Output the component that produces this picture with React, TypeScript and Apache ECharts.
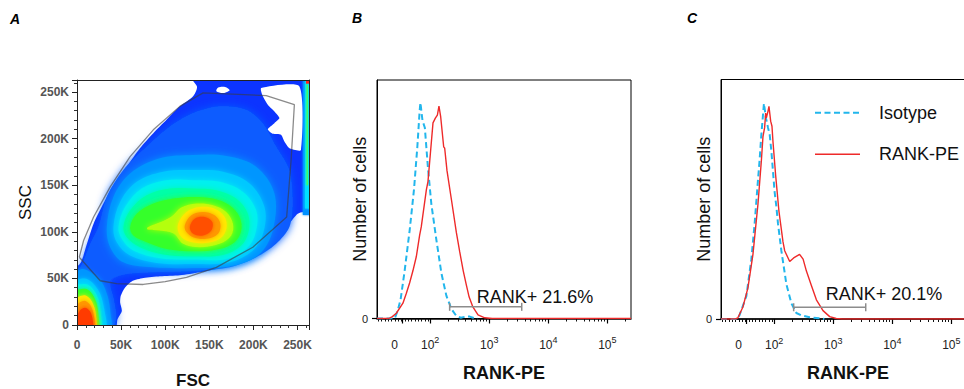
import { useEffect, useRef } from 'react';
import * as echarts from 'echarts';

const FONT = '"Liberation Sans", Arial, Helvetica, sans-serif';

/* ---------------- Panel A: FSC vs SSC (values in K) ---------------- */

const scatterMax = 263;

// pseudocolour density levels, from the outermost (sparsest) inwards
const densityOuter = [[-5,-5],[43.2,-5],[45.9,6.1],[50.8,15.1],[48.9,24.1],[49.6,31.3],[54.5,40.3],[62,46.8],[75.2,50.4],[94,52.2],[116.6,53.3],[139.2,56.5],[161.7,61.2],[184.3,69.1],[206.9,81.7],[225.7,96.1],[240.8,109.4],[250.2,119.5],[257.7,121.3],[270,114],[270,270],[126,270],[136,256],[131.6,245.5],[116.6,234.7],[101.5,220.3],[86.5,205.9],[71.4,189.7],[56.4,169.9],[41.3,150.1],[30,130.3],[18.8,108.7],[11.3,87.1],[4.5,67.3],[-5,56]];
const densityLow = [[24.4,105.1],[33.8,137.5],[52.6,166.3],[79,191.5],[105.3,213.1],[131.6,227.5],[161.7,234.7],[191.8,231.1],[210.6,216.7],[225.7,191.5],[240.7,166.3],[244.5,130.3],[240.7,105.1],[225.7,87.1],[203.1,72.7],[173,61.9],[131.6,57.9],[86.5,56.5],[52.6,54],[37.6,47.5],[41.3,29.5],[44.4,7.9],[37.6,-5],[-5,-5],[-5,43.9],[7.5,69.1],[15,87.1]];
const densityL3 = [[33.8,105.1],[41.3,137.5],[60.2,162.7],[94,178.9],[131.6,182.5],[169.3,181.4],[203.1,169.9],[223.8,141.1],[221.9,101.5],[206.9,76.3],[176.8,63.7],[131.6,61.2],[86.5,61.9],[52.6,67.3],[37.6,83.5]];
const densityL4 = [[41.3,105.1],[48.9,132.1],[67.7,153.7],[97.8,164.5],[131.6,166.3],[165.5,164.5],[195.6,151.9],[212.5,126.7],[211.4,99.7],[199.3,79.9],[173,67.3],[131.6,65.5],[90.2,66.6],[60.2,74.5],[45.1,88.9]];
const densityL5 = [[47,105.1],[54.5,126.7],[73.3,146.5],[101.5,155.5],[131.6,155.5],[161.7,153.7],[188.1,142.9],[203.1,123.1],[203.1,101.5],[193.7,83.5],[169.3,70.9],[131.6,70.2],[94,71.6],[63.9,79.9],[50.7,92.5]];
const densityL6 = [[52.6,105.1],[60.2,123.1],[79,139.3],[105.3,146.5],[131.6,146.5],[158,144.7],[180.5,135.7],[193.7,119.5],[194.8,101.5],[186.2,85.3],[165.5,75.2],[131.6,73.8],[97.8,75.6],[71.4,83.5],[56.4,94.3]];
const densityL7 = [[60.2,105.1],[67.7,119.5],[86.5,130.3],[109.1,135.7],[131.6,137.5],[154.2,135.7],[173,128.5],[184.3,115.9],[186.2,101.5],[178.7,88.9],[161.7,81.7],[131.6,79.2],[101.5,81.7],[79,88.9],[63.9,96.1]];
const densityL8 = [[80,105],[95,110.5],[108,117],[118,126],[135.4,130.3],[154.2,128.5],[169.3,121.3],[176.8,108.7],[174.9,96.1],[161.7,87.1],[139.2,83.5],[120.3,87.1],[110,98],[94,101.5],[80,102.5]];
const densityL9 = [[114.7,108.7],[124.1,121.3],[139.2,126.7],[156.1,124.9],[167.4,115.9],[169.3,103.3],[161.7,92.5],[142.9,87.8],[124.1,90.7],[115.8,97.9]];
const densityL10 = [[122.2,106.9],[129.7,117.7],[142.9,121.3],[156.1,117.7],[162.5,108.7],[159.9,97.9],[146.7,92.5],[131.6,94.3],[124.1,99.7]];
const densityPeak = [[127.9,105.1],[133.5,114.1],[144.8,115.9],[153.4,110.5],[152.3,101.5],[142.9,96.1],[131.6,97.9]];

// debris population in the lower-left corner
const debrisL3 = [[-5,-5],[-5,52],[6,60],[16,56],[28,46],[35,30],[38,12],[38,-5]];
const debrisL4 = [[-5,-5],[-5,45],[8,50],[17,46],[26,34],[31,16],[32,-5]];
const debrisL5 = [[-5,-5],[-5,40],[9,44],[17,40],[24,28],[27,11],[27,-5]];
const debrisL7 = [[-5,-5],[-4,35],[9,39],[16,35],[22,24],[24.5,9],[24,-5]];
const debrisL9 = [[-5,-5],[-2,27],[8,32],[15,28],[20,18],[22,6],[21,-5]];
const debrisL10 = [[-5,-5],[0,21],[8,26],[14.5,22],[18.5,13],[19.5,-5]];
const debrisPeak = [[-5,-5],[3,15],[9,18.5],[14.5,15],[17.5,7],[17.5,-5]];

// saturated FSC events piled up on the right edge
const edgeBand = [[256,118],[270,118],[270,270],[256,270]];
const edgeBandInner = [[258.5,125],[270,125],[270,262],[258.5,262]];
const edgeBandCore = [[260.3,150],[261.8,150],[261.8,258],[260.3,258]];
const edgeCorner = [[259.5,259],[270,259],[270,270],[259.5,270]];

// empty regions inside the upper part of the cloud
const emptyNotch = [[208.8,254.5],[252,256.3],[253.9,187.9],[240.8,189.7],[235.1,196.9],[231.3,204.1],[221.9,205.2],[216.3,210.2],[223.8,216.7],[229.5,222.1],[223.8,229.3],[216.3,236.5],[210.7,245.5]];
const emptySpot = [[158,251],[166,249],[173,252],[168,255.5],[160,255]];

// gate drawn on the FSC/SSC plot
const cellGate = [[2.6,72.7],[26.3,47.5],[45,44.5],[75,43.5],[100,46.5],[124.2,51.1],[158,61.9],[199.3,83.5],[237.7,115.9],[242.7,177.1],[246.4,236.5],[214.5,246.2],[142.9,249.2],[116.6,234.7],[86.5,209.5],[60.2,180.7],[37.6,148.3],[18.8,115.9],[7.5,90.7],[2.6,72.7]];

/* ---------------- Panels B and C: RANK-PE histograms ---------------- */
// x: position on the biexponential RANK-PE scale in decades (10^2 -> 2, 10^3 -> 3 ...)
// y: cell count as % of the panel's full scale

const peMin = 1.1;
const peMax = 5.4;
const peZero = 1.42;
const peDecades = [2, 3, 4, 5];

const isotypeB = [[1.10,0],[1.40,0],[1.454,3.6],[1.50,8],[1.568,20],[1.653,37],[1.726,54],[1.783,72],[1.822,87],[1.835,90.5],[1.87,83],[1.91,80],[1.963,63],[2.02,48],[2.105,33],[2.19,19],[2.275,9.5],[2.36,4],[2.44,1.2],[2.52,0.3],[2.6,0.8],[2.67,0.8],[2.74,0.2],[2.8,0]];
const rankB = [[1.10,0],[1.30,0],[1.36,0.8],[1.427,2.2],[1.539,6.4],[1.597,10.6],[1.653,15],[1.708,20],[1.766,26],[1.822,35],[1.85,38.5],[1.936,54],[1.963,57.4],[2.003,69],[2.048,82],[2.088,84],[2.122,85.3],[2.149,89],[2.178,84.6],[2.229,72],[2.246,71.4],[2.285,62],[2.359,50],[2.444,36],[2.5,28],[2.56,20],[2.613,14],[2.66,9],[2.72,5],[2.81,1.5],[2.924,0.3],[3.05,0],[5.4,0]];

const isotypeC = [[1.10,0],[1.38,0],[1.415,1.7],[1.529,9.5],[1.614,25],[1.67,40],[1.726,58],[1.754,66.5],[1.783,77],[1.827,90],[1.86,84],[1.895,80],[1.924,77],[1.953,70],[2.008,53],[2.037,47],[2.064,40],[2.122,28.5],[2.207,14.5],[2.292,6.5],[2.376,2.5],[2.46,1.5],[2.6,0.7],[2.77,0.3],[2.85,0]];
const rankC = [[1.10,0],[1.34,0],[1.386,0.5],[1.471,5],[1.556,13],[1.641,27],[1.726,48],[1.783,66],[1.81,76],[1.839,80],[1.856,86],[1.868,84],[1.895,86.7],[1.912,88.8],[1.941,82.6],[1.963,80.5],[1.98,74],[2.025,60],[2.081,45],[2.149,32.3],[2.178,28.5],[2.263,24],[2.33,25.5],[2.43,27],[2.49,25],[2.546,20],[2.63,14],[2.715,8],[2.827,3.5],[2.94,1],[3.05,0.2],[3.15,0],[5.4,0]];

// RANK+ gate limits (same decade positions on both panels) and the reported percentages
const rankGateB = { from: 2.33, to: 3.55, label: 'RANK+ 21.6%' };
const rankGateC = { from: 2.33, to: 3.55, label: 'RANK+ 20.1%' };

const seriesNames = ['Isotype', 'RANK-PE'];

/* ---------------- styling ---------------- */

const CYAN = '#22b6ec';
const RED = '#ee2a2a';
const GATE_GREY = '#8c8c8c';

const densityLayers = [
  { pts: densityOuter, color: '#0c34ff', smooth: 0.25, blur: 0 },
  { pts: densityLow, color: '#0b5cff', smooth: 0.3, blur: 8 },
  { pts: debrisL3, color: '#0096ff', smooth: 0.3, blur: 5 },
  { pts: debrisL4, color: '#00c8ff', smooth: 0.3, blur: 5 },
  { pts: debrisL5, color: '#00f0f0', smooth: 0.3, blur: 5 },
  { pts: debrisL7, color: '#34ff2c', smooth: 0.3, blur: 5 },
  { pts: debrisL9, color: '#ffe800', smooth: 0.3, blur: 5 },
  { pts: debrisL10, color: '#ff9800', smooth: 0.3, blur: 5 },
  { pts: debrisPeak, color: '#ff3a00', smooth: 0.3, blur: 5 },
  { pts: densityL3, color: '#0096ff', smooth: 0.35, blur: 8 },
  { pts: densityL4, color: '#00c8ff', smooth: 0.35, blur: 6 },
  { pts: densityL5, color: '#00f0f0', smooth: 0.35, blur: 6 },
  { pts: densityL6, color: '#00ffa8', smooth: 0.35, blur: 6 },
  { pts: densityL7, color: '#34ff2c', smooth: 0.35, blur: 6 },
  { pts: densityL8, color: '#b4ff08', smooth: 0.35, blur: 6 },
  { pts: densityL9, color: '#ffe800', smooth: 0.35, blur: 5 },
  { pts: densityL10, color: '#ff9800', smooth: 0.35, blur: 5 },
  { pts: densityPeak, color: '#ff5000', smooth: 0.35, blur: 4 },
  { pts: edgeBand, color: '#0090ff', smooth: 0, blur: 2 },
  { pts: edgeBandInner, color: '#00e0ff', smooth: 0, blur: 2 },
  { pts: edgeBandCore, color: '#40ff60', smooth: 0, blur: 2 },
  { pts: edgeCorner, color: '#ff2020', smooth: 0, blur: 0 },
  { pts: emptyNotch, color: '#ffffff', smooth: 0.2, blur: 0 },
  { pts: emptySpot, color: '#ffffff', smooth: 0.3, blur: 0 },
];

const minorPeTicks: number[] = (() => {
  const t: number[] = [];
  for (let p = 1.12; p < 1.99; p += 0.0565) t.push(Number(p.toFixed(3)));
  for (let d = 2; d <= 5; d++) {
    for (let m = 2; m <= 9; m++) {
      const v = d + Math.log10(m);
      if (v < peMax) t.push(v);
    }
  }
  return t;
})();

const gridA = { left: 77, top: 80, width: 232, height: 245 };
const gridB = { left: 377, top: 80, width: 254, height: 238.5 };
const gridC = { left: 721, top: 79.5, width: 254, height: 239.5 };

const GATE_LEVEL = 4.9;
const gateLabelOffsetB = [27, -9.5];
const gateLabelOffsetC = [32, -13];

function scatterAxis(kind: 'x' | 'y', gridIndex: number, name: string) {
  return {
    type: 'value', gridIndex, min: 0, max: scatterMax, interval: 50, z: 10,
    position: kind === 'x' ? 'bottom' : 'left',
    axisLine: { show: true, onZero: false, lineStyle: { color: '#222', width: 1 } },
    axisTick: { show: true, inside: false, length: 5, lineStyle: { color: '#222', width: 1 } },
    minorTick: { show: true, splitNumber: 5, length: 3, lineStyle: { color: '#333', width: 1 } },
    axisLabel: {
      show: true, margin: kind === 'x' ? 14 : 8, fontFamily: FONT, fontSize: 12, fontWeight: 'bold', color: '#555',
      showMaxLabel: false,
      formatter: (v: number) => (v === 0 ? '0' : `${v}K`),
    },
    splitLine: { show: false },
    name, nameLocation: 'middle', nameGap: kind === 'x' ? 47 : 43, nameMoveOverlap: false,
    nameTextStyle: { fontFamily: FONT, fontSize: 17, fontWeight: kind === 'x' ? 'bold' : 'normal', color: '#111' },
  };
}

function frameAxis(kind: 'x' | 'y', gridIndex: number) {
  return {
    type: 'value', gridIndex, min: 0, max: scatterMax, z: 10,
    position: kind === 'x' ? 'top' : 'right',
    axisLine: { show: true, onZero: false, lineStyle: { color: '#222', width: 1 } },
    axisTick: { show: false }, axisLabel: { show: false }, splitLine: { show: false },
  };
}

function peAxes(gridIndex: number) {
  return [
    {
      type: 'value', gridIndex, position: 'bottom', min: peMin, max: peMax, z: 1,
      axisLine: { show: true, onZero: false, lineStyle: { color: '#000', width: 1.5 } },
      axisTick: { show: true, customValues: [1.52, ...peDecades], length: 5, lineStyle: { color: '#000', width: 1.2 } },
      axisLabel: {
        show: true, customValues: [peZero, ...peDecades], margin: 17,
        fontFamily: FONT, fontSize: 12, color: '#222',
        formatter: (v: number) => (v < 1.9 ? '0{s| }' : `10{s|${Math.round(v)}}`),
        rich: { s: { fontFamily: FONT, fontSize: 9, color: '#222', padding: [0, 0, 9, 0] } },
      },
      splitLine: { show: false },
      name: 'RANK-PE', nameLocation: 'middle', nameGap: 45, nameMoveOverlap: false,
      nameTextStyle: { fontFamily: FONT, fontSize: 18, fontWeight: 'bold', color: '#111' },
    },
    {
      type: 'value', gridIndex, position: 'bottom', min: peMin, max: peMax, z: 1,
      axisLine: { show: false },
      axisTick: { show: true, customValues: minorPeTicks, length: 3, lineStyle: { color: '#111', width: 1 } },
      axisLabel: { show: false }, splitLine: { show: false },
    },
  ];
}

function countAxis(gridIndex: number) {
  return {
    type: 'value', gridIndex, min: 0, max: 100, position: 'left',
    axisLine: { show: true, onZero: false, lineStyle: { color: '#000', width: 1 } },
    axisTick: { show: true, customValues: [0], length: 5, lineStyle: { color: '#000', width: 1.2 } },
    axisLabel: { show: true, customValues: [0], margin: 9, fontFamily: FONT, fontSize: 11, color: '#222' },
    splitLine: { show: false },
    name: 'Number of cells', nameLocation: 'middle', nameGap: 8, nameMoveOverlap: false,
    nameTextStyle: { fontFamily: FONT, fontSize: 18, color: '#111' },
  };
}

function histSeries(xAxisIndex: number, yAxisIndex: number, iso: number[][], rank: number[][]) {
  return [
    {
      type: 'line', name: seriesNames[0], xAxisIndex, yAxisIndex, data: iso, symbol: 'none', silent: true, z: 3,
      lineStyle: { color: CYAN, width: 2, type: [6, 3.5] },
    },
    {
      type: 'line', name: seriesNames[1], xAxisIndex, yAxisIndex, data: rank, symbol: 'none', silent: true, z: 4,
      lineStyle: { color: RED, width: 1.4 },
    },
  ];
}

function gateSeries(xAxisIndex: number, yAxisIndex: number, gate: { from: number; to: number; label: string }, offset: number[]) {
  return {
    type: 'custom', xAxisIndex, yAxisIndex, silent: true, z: 5,
    data: [[gate.from, gate.to]],
    renderItem: (_params: any, api: any) => {
      const a = api.coord([api.value(0), GATE_LEVEL]);
      const b = api.coord([api.value(1), GATE_LEVEL]);
      const st = { stroke: GATE_GREY, lineWidth: 1.5 };
      return {
        type: 'group',
        children: [
          { type: 'line', shape: { x1: a[0], y1: a[1], x2: b[0], y2: b[1] }, style: st },
          { type: 'line', shape: { x1: a[0], y1: a[1] - 4, x2: a[0], y2: a[1] + 4 }, style: st },
          { type: 'line', shape: { x1: b[0], y1: b[1] - 4, x2: b[0], y2: b[1] + 4 }, style: st },
          {
            type: 'text', x: a[0] + offset[0], y: a[1] + offset[1],
            style: {
              text: gate.label, fontFamily: FONT, fontSize: 18, fill: '#111',
              align: 'left', verticalAlign: 'middle', textAlign: 'left', textVerticalAlign: 'middle',
            },
          },
        ],
      };
    },
  };
}

function buildOption(): any {
  const textStyle = (t: string, x: number, y: number, extra: any = {}) => ({
    type: 'text', x, y, silent: true,
    style: {
      text: t, fontFamily: FONT, fontSize: 18, fill: '#111',
      align: 'left', verticalAlign: 'middle', textAlign: 'left', textVerticalAlign: 'middle', ...extra,
    },
  });
  return {
    animation: false,
    backgroundColor: '#ffffff',
    grid: [
      { ...gridA, show: false, outerBoundsMode: 'none', containLabel: false },
      { ...gridB, show: true, borderColor: '#000', borderWidth: 1, backgroundColor: 'transparent', outerBoundsMode: 'none', containLabel: false },
      { ...gridC, show: true, borderColor: '#000', borderWidth: 1, backgroundColor: 'transparent', outerBoundsMode: 'none', containLabel: false },
    ],
    xAxis: [
      scatterAxis('x', 0, 'FSC'),
      frameAxis('x', 0),
      ...peAxes(1),
      ...peAxes(2),
    ],
    yAxis: [
      scatterAxis('y', 0, 'SSC'),
      frameAxis('y', 0),
      countAxis(1),
      countAxis(2),
    ],
    series: [
      {
        type: 'custom', xAxisIndex: 0, yAxisIndex: 0, silent: true, clip: true, z: 1,
        data: densityLayers.map((_, i) => [i, 0]),
        renderItem: (params: any, api: any) => {
          const layer = densityLayers[params.dataIndex];
          return {
            type: 'polygon',
            shape: { points: layer.pts.map((p) => api.coord(p)), smooth: layer.smooth },
            style: {
              fill: layer.color, stroke: 'none',
              shadowBlur: layer.blur, shadowColor: layer.blur ? layer.color : 'transparent',
            },
          };
        },
      },
      {
        type: 'line', xAxisIndex: 0, yAxisIndex: 0, data: cellGate, symbol: 'none', silent: true, z: 3,
        lineStyle: { color: 'rgba(60,60,60,0.6)', width: 1.3 },
      },
      ...histSeries(2, 2, isotypeB, rankB),
      gateSeries(2, 2, rankGateB, gateLabelOffsetB),
      ...histSeries(4, 3, isotypeC, rankC),
      gateSeries(4, 3, rankGateC, gateLabelOffsetC),
    ],
    graphic: [
      textStyle('A', 15, 18.5, { fontSize: 14, fontWeight: 'bold', fontStyle: 'italic', fill: '#000', align: 'center', textAlign: 'center' }),
      textStyle('B', 357, 18, { fontSize: 14, fontWeight: 'bold', fontStyle: 'italic', fill: '#000', align: 'center', textAlign: 'center' }),
      textStyle('C', 692, 18, { fontSize: 14, fontWeight: 'bold', fontStyle: 'italic', fill: '#000', align: 'center', textAlign: 'center' }),
      { type: 'line', silent: true, shape: { x1: 815, y1: 112.7, x2: 860, y2: 112.7 }, style: { stroke: CYAN, lineWidth: 2, lineDash: [6, 3.5] } },
      textStyle(seriesNames[0], 879, 112.7),
      { type: 'line', silent: true, shape: { x1: 815, y1: 154.3, x2: 860, y2: 154.3 }, style: { stroke: RED, lineWidth: 1.5 } },
      textStyle(seriesNames[1], 879, 154.3),
    ],
  };
}

export default function App() {
  const ref = useRef<HTMLDivElement>(null);
  useEffect(() => {
    if (!ref.current) return;
    const chart = echarts.init(ref.current, null, { renderer: 'svg' });
    chart.setOption(buildOption());
    return () => chart.dispose();
  }, []);
  return (
    <div style={{ position: 'fixed', left: 0, top: 0, width: 964, height: 389, overflow: 'hidden', background: '#fff' }}>
      <div ref={ref} style={{ width: 990, height: 389 }} />
    </div>
  );
}
